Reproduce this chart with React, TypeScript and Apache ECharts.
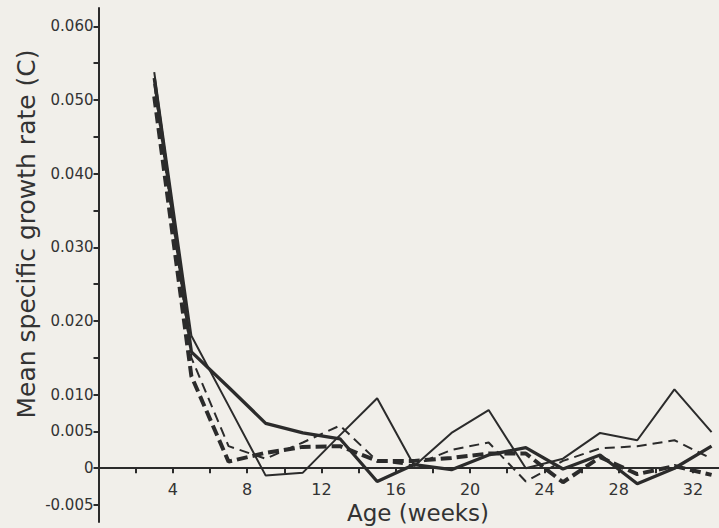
import React, { useEffect, useRef } from "react";
import * as echarts from "echarts";

// Age in weeks at which each series was sampled
const weeks = [3, 5, 7, 9, 11, 13, 15, 17, 19, 21, 23, 25, 27, 29, 31, 33];

// Mean specific growth rate (C) per series
const thinSolid = [0.0538, 0.018, 0.0085, -0.001, -0.0006, 0.0045, 0.0095, 0.0003, 0.0048, 0.0079, 0.0, 0.0013, 0.0048, 0.0038, 0.0107, 0.0049];
const thickSolid = [0.053, 0.0158, 0.011, 0.0061, 0.0048, 0.004, -0.0018, 0.0005, -0.0002, 0.0018, 0.0028, -0.0001, 0.0018, -0.0021, 0.0, 0.003];
const thinDashed = [0.0522, 0.015, 0.003, 0.0013, 0.0035, 0.0058, 0.001, 0.0004, 0.0025, 0.0035, -0.0018, 0.001, 0.0027, 0.003, 0.0038, 0.0013];
const thickDashed = [0.0505, 0.0125, 0.0009, 0.0021, 0.0029, 0.003, 0.001, 0.001, 0.0014, 0.002, 0.002, -0.0019, 0.0015, -0.0008, 0.0003, -0.0009];

// Axis ticks and labels
const yTickValues = [-0.005, 0, 0.005, 0.01, 0.015, 0.02, 0.025, 0.03, 0.035, 0.04, 0.045, 0.05, 0.055, 0.06];
const yLabelValues = [-0.005, 0, 0.005, 0.01, 0.02, 0.03, 0.04, 0.05, 0.06];
const xTickValues = [2, 4, 6, 8, 10, 12, 14, 16, 18, 20, 22, 24, 26, 28, 30, 32];
const xLabelValues = [4, 8, 12, 16, 20, 24, 28, 32];

const yTitle = "Mean specific growth rate (C)";
const xTitle = "Age (weeks)";

const INK = "#2b2b2b";
const TEXT = "#333333";
const FONT = "DejaVu Sans";

const Y_MIN = -0.0073;
const Y_MAX = 0.0625;
const GRID_TOP = 8;
const GRID_BOTTOM = 6;
const H = 528;

function pairs(vals: number[]) {
  return weeks.map((w, i) => [w, vals[i]]);
}

export default function App() {
  const ref = useRef<HTMLDivElement>(null);
  useEffect(() => {
    if (!ref.current) return;
    const chart = echarts.init(ref.current, undefined, { renderer: "svg" });
    const gridH = H - GRID_TOP - GRID_BOTTOM;
    // distance from grid bottom up to the zero line
    const zeroOffset = (gridH * (0 - Y_MIN)) / (Y_MAX - Y_MIN);
    const option: any = {
      animation: false,
      backgroundColor: "#f1efea",
      grid: {
        left: 98.5,
        top: GRID_TOP,
        right: 0,
        bottom: GRID_BOTTOM,
        containLabel: false,
        outerBoundsMode: "none",
      },
      xAxis: {
        type: "value",
        min: 0,
        max: 33.4,
        offset: -zeroOffset,
        axisLine: { onZero: false, lineStyle: { color: INK, width: 2 } },
        axisTick: { show: true, length: 5, lineStyle: { color: INK, width: 2 }, customValues: xTickValues },
        axisLabel: {
          customValues: xLabelValues,
          margin: 13,
          color: TEXT,
          fontFamily: FONT,
          fontSize: 16,
          formatter: (v: number) => String(v),
        },
        splitLine: { show: false },
      },
      yAxis: {
        type: "value",
        min: Y_MIN,
        max: Y_MAX,
        axisLine: { show: true, onZero: false, lineStyle: { color: INK, width: 2 } },
        axisTick: { show: true, length: 5, lineStyle: { color: INK, width: 2 }, customValues: yTickValues },
        axisLabel: {
          customValues: yLabelValues,
          margin: 5,
          color: TEXT,
          fontFamily: FONT,
          fontSize: 15,
          formatter: (v: number) => (Math.abs(v) < 1e-9 ? "0" : v.toFixed(3)),
        },
        splitLine: { show: false },
      },
      graphic: [
        {
          type: "text",
          x: 26,
          y: 234,
          rotation: Math.PI / 2,
          style: {
            text: yTitle,
            fill: TEXT,
            font: `25px "${FONT}"`,
            align: "center",
            verticalAlign: "middle",
          },
        },
        {
          type: "text",
          x: 418,
          y: 513,
          style: {
            text: xTitle,
            fill: TEXT,
            font: `23px "${FONT}"`,
            align: "center",
            verticalAlign: "middle",
          },
        },
      ],
      series: [
        {
          type: "line",
          data: pairs(thinDashed),
          showSymbol: false,
          symbol: "none",
          lineStyle: { color: INK, width: 2, type: [10, 6] },
        },
        {
          type: "line",
          data: pairs(thickDashed),
          showSymbol: false,
          symbol: "none",
          lineStyle: { color: INK, width: 4, type: [11, 5] },
        },
        {
          type: "line",
          data: pairs(thinSolid),
          showSymbol: false,
          symbol: "none",
          lineStyle: { color: INK, width: 2 },
        },
        {
          type: "line",
          data: pairs(thickSolid),
          showSymbol: false,
          symbol: "none",
          lineStyle: { color: INK, width: 3.3 },
        },
      ],
    };
    chart.setOption(option);
    return () => chart.dispose();
  }, []);
  return (
    <div
      ref={ref}
      style={{ position: "fixed", left: 0, top: 0, width: 719, height: H }}
    />
  );
}
